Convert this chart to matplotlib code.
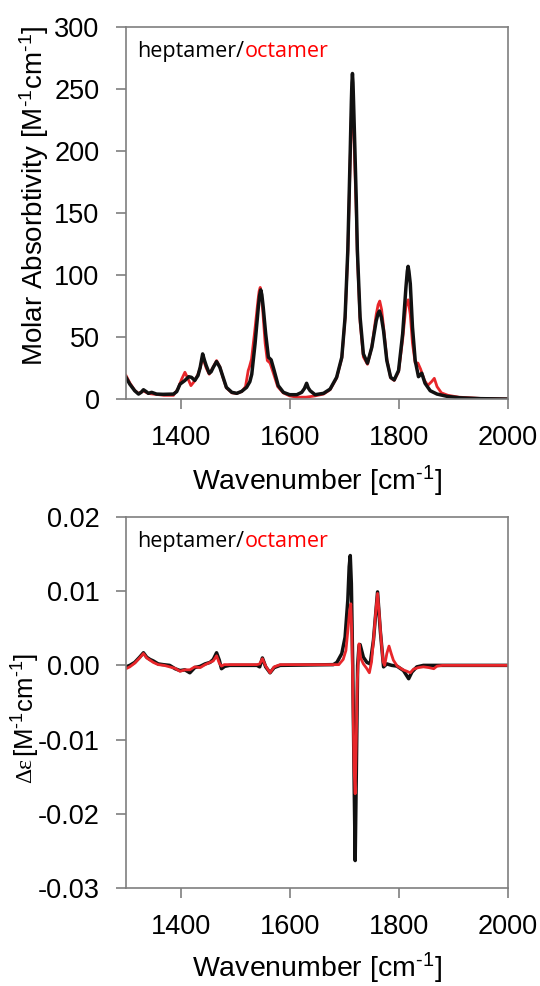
import numpy as np
import matplotlib
matplotlib.use("Agg")
import matplotlib.pyplot as plt

plt.rcParams['font.family'] = ['Liberation Sans', 'DejaVu Sans']
plt.rcParams['axes.unicode_minus'] = False
plt.rcParams['mathtext.fontset'] = 'custom'
plt.rcParams['mathtext.rm'] = 'Liberation Sans'
plt.rcParams['mathtext.it'] = 'Liberation Sans:italic'
plt.rcParams['mathtext.bf'] = 'Liberation Sans:bold'

# absorption spectra (wavenumber, molar absorptivity)
abs_hept_w = [1300, 1307, 1316, 1323, 1328, 1332, 1337, 1341, 1347, 1356, 1368, 1387, 1393, 1399,
              1408, 1415, 1420, 1426, 1432, 1436, 1440.5, 1444, 1447, 1452.5, 1456, 1460, 1466,
              1472, 1478, 1484, 1494, 1503, 1512, 1521, 1527, 1530.5, 1536.5, 1542.5, 1545, 1547,
              1549, 1551.5, 1556, 1561, 1566, 1571.5, 1579, 1588.5, 1600, 1613, 1622, 1627, 1631,
              1634, 1637.5, 1646.5, 1662, 1674, 1686, 1695.5, 1701.5, 1706.5, 1709, 1711, 1713,
              1714, 1715, 1716, 1717, 1719.5, 1722, 1724, 1729, 1735, 1742.5, 1750.5, 1758.5,
              1762, 1764.5, 1768, 1772, 1778, 1785, 1791.5, 1799.5, 1807, 1813, 1815.5, 1817,
              1818.5, 1821, 1825, 1830, 1836, 1842, 1848, 1857.5, 1870, 1888, 1912, 1950, 2000]
abs_hept = [17.5, 12, 6.7, 4, 5.5, 7.5, 6, 4.6, 5.4, 4, 3.8, 4, 6, 12,
            15, 18, 17.5, 15, 19, 25.6, 36.4, 31, 27, 20.8, 22, 25.6, 30.2,
            25.6, 17.5, 9.4, 5.4, 4.6, 6.2, 9.4, 14, 20, 44.5, 74, 84, 88,
            84, 74, 52.6, 33.7, 31.6, 23, 10.8, 5.4, 3.5, 3.5, 5.4, 8.5, 12.7,
            9, 6.7, 3.5, 4.6, 8, 17.5, 33.7, 66, 120, 165, 201, 240,
            255, 262.5, 255, 240, 201, 160, 120, 66, 36.4, 28.9, 41.8, 63,
            69, 71, 66, 55, 31, 17.5, 15.4, 23, 52.6, 90, 103, 107,
            103, 93, 58, 31, 18, 20.8, 12.7, 6.7, 4, 2.2, 1, 0.3, 0]

abs_oct_w = [1300, 1307, 1316, 1323, 1332, 1341, 1350, 1370, 1387, 1395, 1402, 1408, 1413, 1419,
             1426.5, 1432, 1436, 1440.5, 1444, 1447, 1452.5, 1460, 1466, 1472, 1478, 1484, 1494,
             1503, 1512, 1519, 1524, 1526, 1530, 1536, 1542, 1544, 1546, 1548, 1550.5, 1555,
             1559, 1564, 1570, 1578, 1588, 1600, 1613, 1630, 1646, 1662, 1674, 1686, 1695.5,
             1701.5, 1706.5, 1709, 1711, 1713, 1714, 1715, 1716, 1717, 1719.5, 1722, 1724, 1729,
             1735, 1742.5, 1750.5, 1758.5, 1762, 1765, 1768.5, 1772, 1778, 1785, 1791.5, 1799.5,
             1807, 1813, 1817, 1821, 1825, 1830, 1835, 1840, 1847, 1853, 1860, 1865, 1870, 1878,
             1890, 1910, 1950, 2000]
abs_oct = [19, 13, 7, 4.5, 6.5, 4.5, 4, 3, 3, 8, 16, 21.6, 17, 10.8,
           15, 20, 25, 34, 29, 25, 20, 26, 31, 26, 17, 9, 5,
           4.5, 6, 10, 23, 25.6, 32, 55, 80, 87, 90, 84, 72, 45,
           31, 29, 21, 10, 5, 2.5, 1.5, 1.5, 2.5, 4, 7.5, 17, 33,
           65, 118, 160, 195, 228, 237, 241, 236, 220, 185, 150, 115, 62,
           34, 28, 42, 68, 76, 79, 72, 58, 32, 17, 15, 22,
           48, 75, 80, 68, 45, 29, 29, 24, 15, 11, 14, 16.7, 10, 5,
           3, 1.5, 0.5, 0]

# VCD spectra (wavenumber, delta epsilon)
vcd_hept_w = [1300, 1307, 1316, 1325, 1332, 1338, 1344, 1350, 1359, 1368, 1380, 1390, 1399, 1408,
              1417, 1426, 1436, 1445, 1454, 1460, 1466, 1471, 1475, 1481, 1490, 1540, 1545, 1550,
              1556, 1564, 1571.5, 1582.5, 1680, 1686.5, 1695.5, 1701.5, 1706.5, 1709, 1711, 1713,
              1715.5, 1718, 1720, 1722, 1724.5, 1727, 1729, 1735, 1741.5, 1747.5, 1753.5, 1761,
              1766, 1772, 1778, 1787, 1796.5, 1808.5, 1818, 1824, 1833, 1845, 2000]
vcd_hept = [-0.0002, 0.0, 0.0004, 0.0011, 0.0017, 0.0011, 0.0008, 0.0006, 0.0002, 0.0001, 0.0,
            -0.00045, -0.0007, -0.0006, -0.0010, -0.0003, -0.00013, 0.0002, 0.0004, 0.0008,
            0.0017, 0.0007, -0.00045, -0.00013, 0.0, 0.0, -0.0002, 0.0010, -0.0002, -0.0010,
            -0.0003, 0.0, 0.0001, 0.0004, 0.0016, 0.0038, 0.0088, 0.0133, 0.0148, 0.011,
            0.0, -0.015, -0.0263, -0.015, 0.0, 0.0026, 0.0028, 0.0011, 0.0004, 0.0002, 0.0034,
            0.0099, 0.0047, -0.0002, 0.0002, 0.0, -0.0001, -0.0007, -0.0018, -0.0009, -0.0002,
            0.0, 0.0]

vcd_oct_w = [1300, 1307, 1316, 1325, 1332, 1338, 1344, 1350, 1359, 1370, 1380, 1390, 1399, 1408,
             1417, 1426, 1436, 1445, 1454, 1460, 1466, 1471, 1475, 1480, 1540, 1545, 1550, 1556,
             1564, 1571.5, 1582.5, 1690, 1698, 1703, 1707, 1710, 1712, 1714, 1716, 1718, 1720,
             1722, 1724, 1727, 1730, 1735, 1741, 1746, 1750, 1754, 1758, 1761, 1764, 1767, 1771,
             1774, 1778, 1782, 1786, 1790, 1797, 1808, 1815, 1821, 1827, 1836, 1845, 1855, 1864,
             1870, 1880, 2000]
vcd_oct = [-0.00045, -0.0002, 0.0003, 0.0010, 0.0016, 0.0010, 0.0007, 0.0004, 0.0001, 0.0,
           -0.0002, -0.0004, -0.0008, -0.0006, -0.0006, -0.0002, -0.0003, 0.0001, 0.0004, 0.0006,
           0.0013, 0.0003, -0.0001, 0.0001, 0.0001, 0.0002, 0.0009, -0.0001, -0.0010, -0.0002,
           0.0001, 0.0001, 0.0008, 0.0020, 0.0050, 0.0075, 0.0083, 0.0040, -0.0050, -0.0140,
           -0.0173, -0.0100, -0.0020, 0.0029, 0.0010, 0.0002, -0.0004, -0.0010, 0.0005, 0.0038,
           0.0075, 0.0097, 0.0070, 0.0040, 0.0005, 0.0, 0.0016, 0.0026, 0.0016, 0.0007, -0.0001,
           -0.0006, -0.0008, -0.0010, -0.0005, -0.0003, -0.0002, -0.0003, -0.00045, -0.0001, 0.0,
           0.0]

RED = '#e8262a'
BLK = '#111111'
GRAY = '#7f7f7f'

fig = plt.figure(figsize=(5.4, 9.86), dpi=100)
ax1 = fig.add_axes([0.2333, 0.5953, 0.7074, 0.3773])
ax2 = fig.add_axes([0.2333, 0.0994, 0.7074, 0.3763])

ax1.plot(abs_oct_w, abs_oct, color=RED, lw=2.0)
ax1.plot(abs_hept_w, abs_hept, color=BLK, lw=2.5)
ax2.plot(vcd_hept_w, vcd_hept, color=BLK, lw=2.5)
ax2.plot(vcd_oct_w, vcd_oct, color=RED, lw=2.0)

ax1.set_ylim(0, 300)
ax1.set_yticks(np.arange(0, 301, 50))
ax2.set_ylim(-0.03, 0.02)
ax2.set_yticks([-0.03, -0.02, -0.01, 0.0, 0.01, 0.02])
ax2.yaxis.set_major_formatter(matplotlib.ticker.FormatStrFormatter('%.2f'))

for ax in (ax1, ax2):
    ax.set_xlim(1300, 2000)
    ax.set_xticks([1400, 1600, 1800, 2000])
    for s in ax.spines.values():
        s.set_color(GRAY)
        s.set_linewidth(1.2)
    ax.tick_params(direction='out', length=7, width=1.2, color=GRAY,
                   labelsize=19.5, pad=12)
    t1 = ax.text(0.03, 0.935, 'heptamer/', transform=ax.transAxes, fontsize=15.5,
                 family=['Open Sans', 'DejaVu Sans'], va='center', ha='left', color='black')
    ax.annotate('octamer', xy=(1, 0), xycoords=t1, va='bottom', ha='left', fontsize=15.5,
                family=['Open Sans', 'DejaVu Sans'], color='red')

xlab = r'Wavenumber [cm$^{\text{-1}}$]'
fig.text(0.587, 0.503, xlab, ha='center', va='baseline', fontsize=20.5)
fig.text(0.587, 0.009, xlab, ha='center', va='baseline', fontsize=20.5)
fig.text(0.063, 0.801, r'Molar Absorbtivity [M$^{\text{-1}}$cm$^{\text{-1}}$]', rotation=90,
         ha='center', va='center', fontsize=20)

de = fig.text(0.048, 0.206, '\u0394\u03b5', rotation=90, ha='center', va='bottom',
              fontsize=17, family=['Liberation Serif', 'DejaVu Serif'])
fig.text(0.048, 0.206 + 0.026, r'[M$^{\text{-1}}$cm$^{\text{-1}}$]', rotation=90,
         ha='center', va='bottom', fontsize=18.5)

fig.savefig('out.png', dpi=100)
